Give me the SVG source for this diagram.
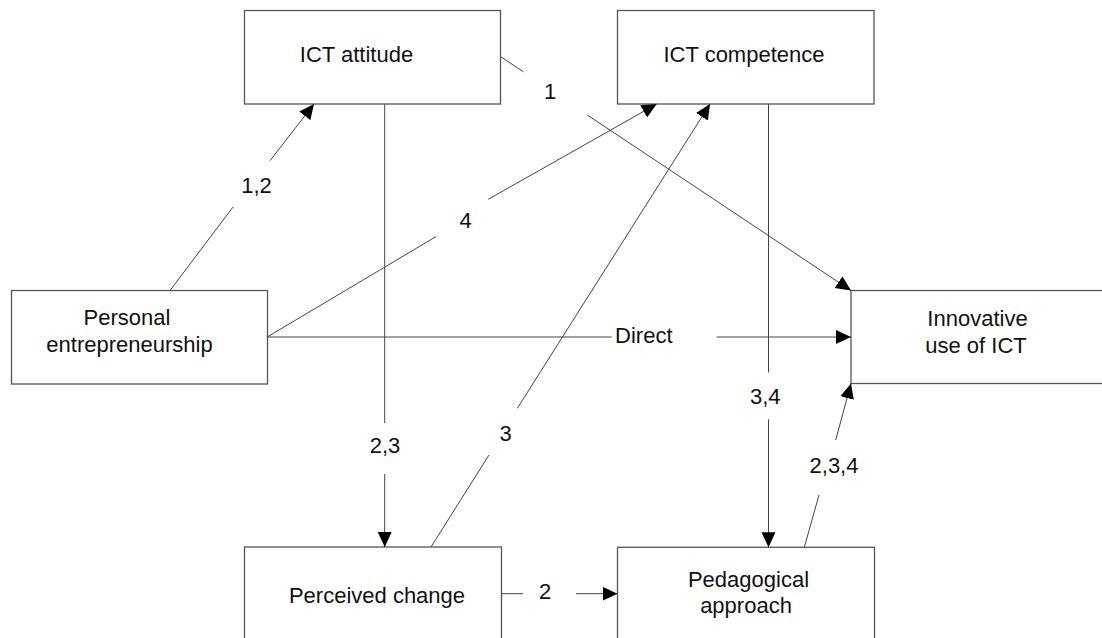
<svg xmlns="http://www.w3.org/2000/svg" width="1102" height="638" viewBox="0 0 1102 638">
<style>
.box{fill:#fff;stroke:#555;stroke-width:1.3}
.t{font-family:"Liberation Sans",Arial,sans-serif;font-size:22px;fill:#111;text-anchor:middle}
.c{stroke:#444;stroke-width:1;fill:none}
.a{marker-end:url(#arr)}
</style>
<defs>
<marker id="arr" markerUnits="userSpaceOnUse" markerWidth="16" markerHeight="15" refX="15" refY="7" orient="auto">
<path d="M0,0 L15,7 L0,14 z" fill="#000"/>
</marker>
</defs>
<g id="node-ict-attitude">
<rect class="box" x="244.5" y="10.5" width="256" height="93.5"/>
<text class="t" x="356.5" y="62">ICT attitude</text>
</g>
<g id="node-ict-competence">
<rect class="box" x="617.5" y="10.5" width="256.5" height="93.5"/>
<text class="t" x="744" y="62">ICT competence</text>
</g>
<g id="node-personal">
<rect class="box" x="11.5" y="290.5" width="256" height="93.5"/>
<text class="t" x="127" y="325">Personal</text>
<text class="t" x="129.5" y="351.5">entrepreneurship</text>
</g>
<g id="node-innovative">
<rect class="box" x="851" y="290.5" width="300" height="93"/>
<text class="t" x="977.5" y="326">Innovative</text>
<text class="t" x="976" y="353">use of ICT</text>
</g>
<g id="node-perceived">
<rect class="box" x="244.5" y="547" width="257" height="120"/>
<text class="t" x="377" y="602.5">Perceived change</text>
</g>
<g id="node-pedagogical">
<rect class="box" x="617.5" y="547.3" width="257" height="120"/>
<text class="t" x="748.5" y="587">Pedagogical</text>
<text class="t" x="746" y="613">approach</text>
</g>
<g id="connectors">
<line class="c" x1="170" y1="290.5" x2="233.3" y2="206.7"/>
<line class="c a" x1="270" y1="160.7" x2="314" y2="104"/>
<line class="c" x1="501" y1="57" x2="523.3" y2="71.7"/>
<line class="c a" x1="587.3" y1="115" x2="851" y2="290.5"/>
<line class="c" x1="267.7" y1="336.7" x2="436" y2="236.6"/>
<line class="c a" x1="488.3" y1="199.3" x2="656.7" y2="104"/>
<line class="c" x1="431" y1="547" x2="489" y2="455"/>
<line class="c a" x1="517.3" y1="408.3" x2="710" y2="104"/>
<line class="c" x1="384.7" y1="104" x2="384.7" y2="423"/>
<line class="c a" x1="384.7" y1="474" x2="384.7" y2="547"/>
<line class="c" x1="768.5" y1="104" x2="768.5" y2="372.5"/>
<line class="c a" x1="768.5" y1="419.3" x2="768.5" y2="547.3"/>
<line class="c" x1="267.7" y1="337" x2="611.7" y2="337"/>
<line class="c a" x1="716.7" y1="337" x2="851" y2="337"/>
<line class="c" x1="804.3" y1="547.3" x2="819" y2="495"/>
<line class="c a" x1="835.7" y1="440" x2="851" y2="383.5"/>
<line class="c" x1="501.5" y1="593.7" x2="523" y2="593.7"/>
<line class="c a" x1="576" y1="593.7" x2="617.5" y2="593.7"/>
<text class="t" x="256.5" y="193.3">1,2</text>
<text class="t" x="550" y="99">1</text>
<text class="t" x="465.5" y="228.3">4</text>
<text class="t" x="385" y="453.3">2,3</text>
<text class="t" x="505.5" y="440.7">3</text>
<text class="t" x="765.3" y="404.3">3,4</text>
<text class="t" x="834" y="473.3">2,3,4</text>
<text class="t" x="643.8" y="343.3">Direct</text>
<text class="t" x="545" y="599.3">2</text>
</g>
</svg>
